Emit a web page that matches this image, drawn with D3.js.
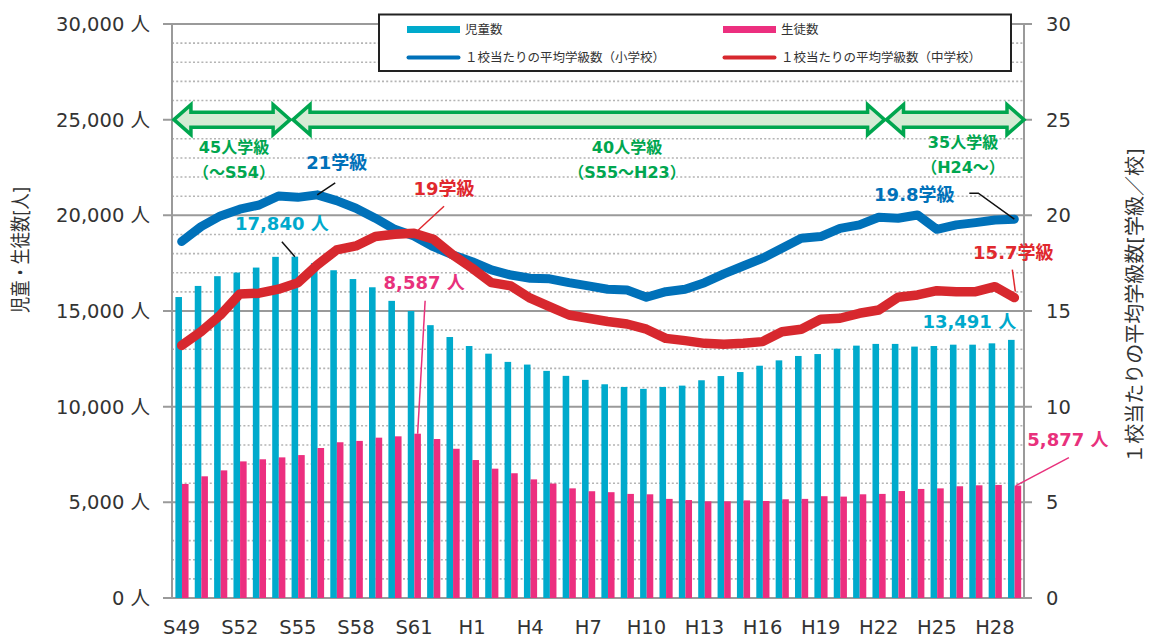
<!DOCTYPE html>
<html lang="ja">
<head>
<meta charset="utf-8">
<script src="https://cdn.jsdelivr.net/npm/d3@7"></script>
<style>
  html, body { margin: 0; padding: 0; background: #fff; }
  svg { display: block; font-family: "DejaVu Sans", "Noto Sans CJK JP", sans-serif; }
</style>
</head>
<body>
<div id="chart"></div>
<script>
// 年度（昭和49年〜平成29年）
const years = [
  "S49", "S50", "S51", "S52", "S53", "S54", "S55", "S56", "S57", "S58",
  "S59", "S60", "S61", "S62", "S63", "H1", "H2", "H3", "H4", "H5",
  "H6", "H7", "H8", "H9", "H10", "H11", "H12", "H13", "H14", "H15",
  "H16", "H17", "H18", "H19", "H20", "H21", "H22", "H23", "H24", "H25",
  "H26", "H27", "H28", "H29"
];
const yearTicks = ["S49", "S52", "S55", "S58", "S61", "H1", "H4", "H7", "H10", "H13", "H16", "H19", "H22", "H25", "H28"];

// 児童数（小学校）
const children = [
  15730, 16310, 16820, 17010, 17270, 17830, 17840, 17500, 17130, 16670,
  16240, 15530, 15000, 14260, 13640, 13170, 12770, 12340, 12200, 11870,
  11610, 11400, 11170, 11030, 10930, 11030, 11100, 11380, 11600, 11810,
  12140, 12420, 12650, 12750, 13030, 13190, 13280, 13280, 13140, 13170,
  13240, 13240, 13310, 13491
];
// 生徒数（中学校）
const students = [
  5960, 6360, 6670, 7140, 7250, 7350, 7470, 7840, 8140, 8210,
  8380, 8450, 8587, 8310, 7800, 7210, 6760, 6520, 6200, 5980,
  5730, 5580, 5530, 5440, 5420, 5180, 5120, 5050, 5050, 5100,
  5070, 5160, 5180, 5320, 5300, 5420, 5440, 5590, 5700, 5730,
  5840, 5890, 5910, 5877
];
// 1校当たりの平均学級数
const elemClasses = [
  18.63, 19.41, 19.97, 20.32, 20.54, 21.01, 20.94, 21.07, 20.77, 20.37,
  19.85, 19.27, 18.92, 18.36, 17.93, 17.58, 17.15, 16.88, 16.71, 16.68,
  16.48, 16.31, 16.14, 16.10, 15.72, 16.01, 16.14, 16.48, 16.94, 17.35,
  17.76, 18.28, 18.80, 18.89, 19.32, 19.50, 19.90, 19.85, 20.02, 19.27,
  19.50, 19.62, 19.76, 19.80
];
const juniorClasses = [
  13.20, 13.92, 14.79, 15.89, 15.93, 16.14, 16.48, 17.41, 18.19, 18.40,
  18.89, 19.01, 19.06, 18.75, 17.93, 17.24, 16.48, 16.31, 15.67, 15.23,
  14.79, 14.62, 14.45, 14.32, 14.05, 13.57, 13.45, 13.31, 13.26, 13.31,
  13.40, 13.92, 14.05, 14.57, 14.62, 14.88, 15.05, 15.72, 15.84, 16.06,
  16.01, 16.01, 16.27, 15.70
];

const countTicks = [0, 5000, 10000, 15000, 20000, 25000, 30000];
const classTicks = [0, 5, 10, 15, 20, 25, 30];

// 学級編制の期間（位置は年度のインデックス）
const periodLabels = ["45人学級", "40人学級", "35人学級"];
const periodSubs = ["（～S54）", "（S55～H23）", "（H24～）"];
const periodFrom = [0.1, 6.25, 36.9];
const periodTo = [6.1, 36.8, 44];

const width = 1152;
const height = 639;
const plot = { left: 172, right: 1024, top: 24, bottom: 598 };

const svg = d3.select("#chart")
  .append("svg")
  .attr("width", width)
  .attr("height", height);

const x = d3.scaleBand().domain(years).range([plot.left, plot.right]).padding(0);
const bw = x.bandwidth();
const x1 = d3.scaleBand().domain(["children", "students"]).range([bw * 0.175, bw * 0.855]);
const xi = d3.scaleLinear().domain([0, years.length]).range([plot.left, plot.right]);
const yL = d3.scaleLinear().domain([0, 30000]).range([plot.bottom, plot.top]);
const yR = d3.scaleLinear().domain([0, 30]).range([plot.bottom, plot.top]);

// グリッド（点線）
const minor = d3.range(1000, 30000, 1000).filter((v) => v % 5000 !== 0);
svg.append("g")
  .selectAll("line")
  .data(minor)
  .enter()
  .append("line")
  .attr("x1", plot.left)
  .attr("x2", plot.right)
  .attr("y1", (d) => yL(d))
  .attr("y2", (d) => yL(d))
  .attr("stroke", "#b4b4b4")
  .attr("stroke-width", 1.6)
  .attr("stroke-dasharray", "2,2.2");

// 主グリッド
svg.append("g")
  .selectAll("line")
  .data(countTicks)
  .enter()
  .append("line")
  .attr("x1", plot.left - 9)
  .attr("x2", plot.right + 8)
  .attr("y1", (d) => yL(d))
  .attr("y2", (d) => yL(d))
  .attr("stroke", "#9a9a9a")
  .attr("stroke-width", 2);

// 左右の軸線
[plot.left, plot.right].forEach((xx) => {
  svg.append("line")
    .attr("x1", xx).attr("x2", xx)
    .attr("y1", plot.top).attr("y2", plot.bottom)
    .attr("stroke", "#9a9a9a")
    .attr("stroke-width", 2);
});

// 左軸ラベル
svg.append("g")
  .selectAll("text")
  .data(countTicks)
  .enter()
  .append("text")
  .attr("x", 150)
  .attr("y", (d) => yL(d))
  .attr("dy", "0.36em")
  .attr("text-anchor", "end")
  .attr("fill", "#333")
  .style("font-size", "19.5px")
  .text((d) => d3.format(",")(d) + " 人");

// 右軸ラベル
svg.append("g")
  .selectAll("text")
  .data(classTicks)
  .enter()
  .append("text")
  .attr("x", 1046)
  .attr("y", (d) => yR(d))
  .attr("dy", "0.36em")
  .attr("fill", "#333")
  .style("font-size", "19.5px")
  .text((d) => d);

// X軸ラベル
svg.append("g")
  .selectAll("text")
  .data(yearTicks)
  .enter()
  .append("text")
  .attr("x", (d) => x(d) + bw / 2)
  .attr("y", 633.5)
  .attr("text-anchor", "middle")
  .attr("fill", "#333")
  .style("font-size", "19.5px")
  .text((d) => d);

// 軸タイトル
svg.append("text")
  .attr("transform", "translate(28,250) rotate(-90)")
  .attr("text-anchor", "middle")
  .attr("fill", "#333")
  .attr("textLength", 126)
  .attr("lengthAdjust", "spacingAndGlyphs")
  .style("font-size", "20px")
  .text("児童・生徒数[人]");

svg.append("text")
  .attr("transform", "translate(1142,306) rotate(-90)")
  .attr("text-anchor", "middle")
  .attr("fill", "#333")
  .style("font-size", "20px")
  .text("１校当たりの平均学級数[学級／校]");

// 棒グラフ
const barGroup = svg.append("g");
barGroup.selectAll(".bar-c")
  .data(children)
  .enter()
  .append("rect")
  .attr("class", "bar-c")
  .attr("x", (d, i) => x(years[i]) + x1("children"))
  .attr("y", (d) => yL(d))
  .attr("width", x1.bandwidth())
  .attr("height", (d) => plot.bottom - yL(d))
  .attr("fill", "#00aacc");

barGroup.selectAll(".bar-s")
  .data(students)
  .enter()
  .append("rect")
  .attr("class", "bar-s")
  .attr("x", (d, i) => x(years[i]) + x1("students"))
  .attr("y", (d) => yL(d))
  .attr("width", x1.bandwidth())
  .attr("height", (d) => plot.bottom - yL(d))
  .attr("fill", "#ec2f7f");

// 折れ線
const line = d3.line()
  .x((d, i) => x(years[i]) + bw / 2)
  .y((d) => yR(d));

svg.append("path")
  .datum(elemClasses)
  .attr("d", line)
  .attr("fill", "none")
  .attr("stroke", "#0071b9")
  .attr("stroke-width", 9)
  .attr("stroke-linejoin", "round")
  .attr("stroke-linecap", "round");

svg.append("path")
  .datum(juniorClasses)
  .attr("d", line)
  .attr("fill", "none")
  .attr("stroke", "#d7282e")
  .attr("stroke-width", 9.5)
  .attr("stroke-linejoin", "round")
  .attr("stroke-linecap", "round");

// 学級編制の矢印
const cy = yR(25);
const sh = 7.5, hh = 15, hl = 17;
periodLabels.forEach((name, k) => {
  const x0 = xi(periodFrom[k]);
  const x2 = xi(periodTo[k]);
  const p = [
    [x0, cy], [x0 + hl, cy - hh], [x0 + hl, cy - sh], [x2 - hl, cy - sh],
    [x2 - hl, cy - hh], [x2, cy], [x2 - hl, cy + hh], [x2 - hl, cy + sh],
    [x0 + hl, cy + sh], [x0 + hl, cy + hh]
  ];
  svg.append("path")
    .attr("d", "M" + p.join("L") + "Z")
    .attr("fill", "#d5ebd4")
    .attr("stroke", "#00a64f")
    .attr("stroke-width", 3.5)
    .attr("stroke-linejoin", "miter");
});

const periodCenterX = [234, 627, 963];
const periodCenterY = [147, 147, 142];
periodLabels.forEach((name, k) => {
  svg.append("text")
    .attr("x", periodCenterX[k])
    .attr("y", periodCenterY[k])
    .attr("dy", "0.36em")
    .attr("text-anchor", "middle")
    .attr("fill", "#00a64f")
    .style("font-size", "16px")
    .style("font-weight", "bold")
    .text(name);
  svg.append("text")
    .attr("x", periodCenterX[k])
    .attr("y", periodCenterY[k] + 25)
    .attr("dy", "0.36em")
    .attr("text-anchor", "middle")
    .attr("fill", "#00a64f")
    .style("font-size", "16px")
    .style("font-weight", "bold")
    .text(periodSubs[k]);
});

// 引き出し線とデータラベル
function leader(points, color, w) {
  svg.append("path")
    .attr("d", "M" + points.join("L"))
    .attr("fill", "none")
    .attr("stroke", color)
    .attr("stroke-width", w || 1.5);
}
function dataLabel(tx, ty, text, color) {
  svg.append("text")
    .attr("x", tx)
    .attr("y", ty)
    .attr("dy", "0.36em")
    .attr("text-anchor", "middle")
    .attr("fill", color)
    .style("font-size", "18px")
    .style("font-weight", "bold")
    .text(text);
}

const last = years.length - 1;
const cx = (i) => x(years[i]) + bw / 2;
const cBar = (i) => x(years[i]) + x1("children") + x1.bandwidth() / 2;
const sBar = (i) => x(years[i]) + x1("students") + x1.bandwidth() / 2;

// 21学級（S56）
leader([[cx(7), yR(elemClasses[7])], [cx(7) + 18, yR(elemClasses[7]) - 12]], "#111");
dataLabel(cx(7) + 19.5, yR(elemClasses[7]) - 32, "21学級", "#0071b9");

// 19学級（S61）
leader([[cx(12) + 4, yR(juniorClasses[12]) - 3], [cx(12) + 30, yR(juniorClasses[12]) - 27]], "#e0282e");
dataLabel(cx(12) + 30, yR(juniorClasses[12]) - 45, "19学級", "#e0282e");

// 17,840人（S55）
leader([[cBar(6), yL(children[6])], [cBar(6) - 13, yL(children[6]) - 15]], "#111");
dataLabel(cBar(6) - 13, yL(children[6]) - 33, "17,840 人", "#00a9cc");

// 8,587人（S61）
leader([[sBar(12), yL(students[12])], [sBar(12) + 7.5, yL(students[12]) - 133]], "#e8317c");
dataLabel(sBar(12) + 6.5, yL(students[12]) - 151, "8,587 人", "#e8317c");

// 19.8学級（H29）
leader([[cx(last), yR(elemClasses[last])], [cx(last) - 36, yR(elemClasses[last]) - 26], [cx(last) - 45, yR(elemClasses[last]) - 26]], "#111");
dataLabel(cx(last) - 100, yR(elemClasses[last]) - 25, "19.8学級", "#0071b9");

// 15.7学級（H29）
leader([[cx(last) + 1, yR(juniorClasses[last]) - 6], [cx(last) - 2, yR(juniorClasses[last]) - 28]], "#e0282e");
dataLabel(cx(last) - 1, yR(juniorClasses[last]) - 45, "15.7学級", "#e0282e");

// 13,491人（H29）
dataLabel(cBar(last) - 42, yL(children[last]) - 18, "13,491 人", "#00a9cc");

// 5,877人（H29）
leader([[sBar(last) - 2, yL(students[last])], [sBar(last) + 51, yL(students[last]) - 28]], "#e8317c");
dataLabel(sBar(last) + 50, yL(students[last]) - 46, "5,877 人", "#e8317c");

// 凡例
const legend = svg.append("g");
legend.append("rect")
  .attr("x", 379)
  .attr("y", 14.5)
  .attr("width", 632)
  .attr("height", 56.5)
  .attr("fill", "#fff")
  .attr("stroke", "#222")
  .attr("stroke-width", 2);

const legendNames = ["児童数", "生徒数", "１校当たりの平均学級数（小学校）", "１校当たりの平均学級数（中学校）"];
const legendColors = ["#00aacc", "#ec2f7f", "#0071b9", "#d7282e"];
const legendKind = ["bar", "bar", "line", "line"];
const legendX = [407, 723];
const legendY = [29.5, 57.5];

legendNames.forEach((name, k) => {
  const lx = legendX[k % 2];
  const ly = legendY[Math.floor(k / 2)];
  if (legendKind[k] === "bar") {
    legend.append("rect")
      .attr("x", lx)
      .attr("y", ly - 3.5)
      .attr("width", 53)
      .attr("height", 7)
      .attr("fill", legendColors[k]);
  } else {
    legend.append("line")
      .attr("x1", lx + 1.5)
      .attr("x2", lx + 51.5)
      .attr("y1", ly)
      .attr("y2", ly)
      .attr("stroke", legendColors[k])
      .attr("stroke-width", 4)
      .attr("stroke-linecap", "round");
  }
  legend.append("text")
    .attr("x", lx + 58)
    .attr("y", ly)
    .attr("dy", "0.36em")
    .attr("fill", "#333")
    .style("font-size", "12.5px")
    .text(name);
});
</script>
</body>
</html>
